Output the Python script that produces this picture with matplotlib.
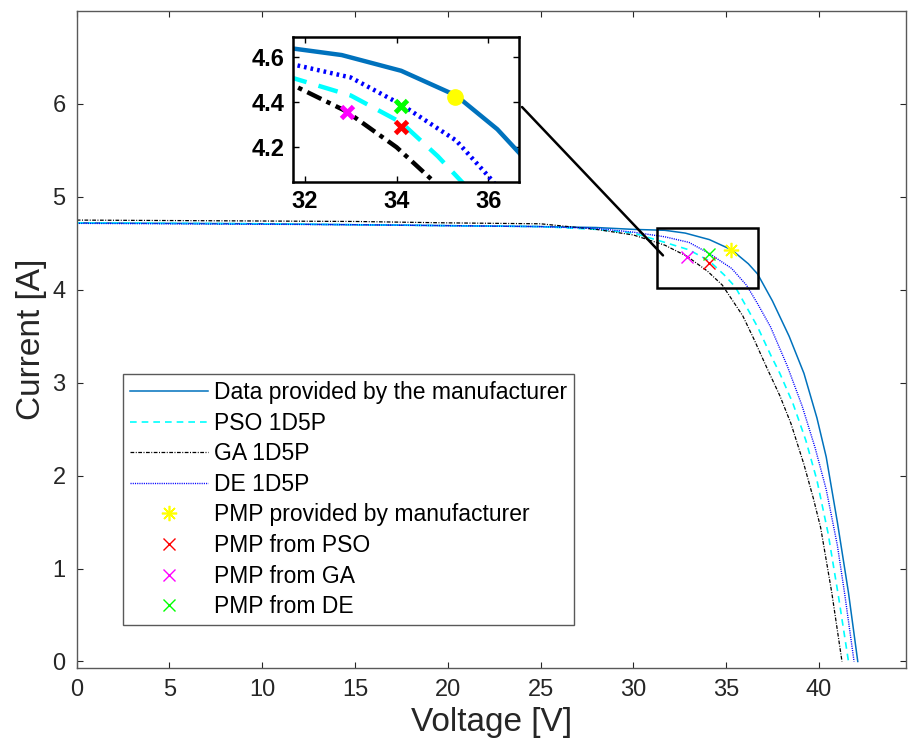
import matplotlib
matplotlib.use('Agg')
import matplotlib.pyplot as plt
from matplotlib.patches import Rectangle

plt.rcParams['font.family'] = ['Liberation Sans', 'DejaVu Sans']

# I-V curves
V_mfr = [0, 5, 10, 15, 20, 25, 28, 30, 31.7, 32.8, 34.1, 35.3, 36.2, 36.7, 37.5, 38.4, 39.2, 39.9, 40.4, 41.0, 41.6, 42.1]
I_mfr = [4.72, 4.715, 4.71, 4.70, 4.69, 4.68, 4.67, 4.65, 4.64, 4.61, 4.54, 4.43, 4.28, 4.17, 3.88, 3.50, 3.10, 2.62, 2.20, 1.50, 0.74, 0.0]

V_pso = [0, 5, 10, 15, 20, 25, 28, 30, 31.7, 33.0, 34.1, 34.9, 35.5, 36.2, 36.7, 37.4, 37.9, 38.6, 39.3, 39.9, 40.5, 41.06, 41.6]
I_pso = [4.72, 4.715, 4.71, 4.70, 4.69, 4.68, 4.65, 4.61, 4.51, 4.43, 4.31, 4.16, 4.03, 3.78, 3.60, 3.30, 3.10, 2.78, 2.38, 1.95, 1.38, 0.70, 0.0]

V_ga = [0, 5, 10, 15, 20, 25, 28, 30, 31.7, 32.9, 34.0, 34.8, 35.9, 36.5, 37.2, 37.9, 38.5, 39.2, 39.7, 40.1, 40.7, 41.25]
I_ga = [4.75, 4.745, 4.74, 4.735, 4.72, 4.71, 4.65, 4.59, 4.48, 4.36, 4.20, 4.05, 3.72, 3.47, 3.16, 2.86, 2.56, 2.12, 1.76, 1.44, 0.74, 0.0]

V_de = [0, 5, 10, 15, 20, 25, 28, 30, 31.7, 33.0, 34.1, 35.3, 36.1, 36.7, 37.4, 38.3, 39.1, 39.8, 40.4, 41.0, 41.4, 41.9]
I_de = [4.715, 4.71, 4.705, 4.70, 4.69, 4.68, 4.66, 4.62, 4.57, 4.51, 4.39, 4.23, 4.05, 3.85, 3.60, 3.18, 2.75, 2.30, 1.85, 1.25, 0.72, 0.0]

# maximum power points: manufacturer, PSO, GA, DE
V_pmp = [35.28, 34.10, 32.91, 34.10]
I_pmp = [4.425, 4.292, 4.358, 4.384]

labels = ['Data provided by the manufacturer', 'PSO 1D5P', 'GA 1D5P', 'DE 1D5P',
          'PMP provided by manufacturer', 'PMP from PSO', 'PMP from GA', 'PMP from DE']

c_mfr = (0, 0.447, 0.741)
c_cyan = (0, 1, 1)
c_green = (0, 1, 0)
grey = '0.15'
asterisk = (8, 2, 0)

fig = plt.figure(figsize=(9.09, 7.53), dpi=100)
ax = fig.add_axes([0.0844, 0.1129, 0.9123, 0.8725])

ax.plot(V_mfr, I_mfr, '-', color=c_mfr, lw=1.1, label=labels[0])
ax.plot(V_pso, I_pso, '--', color=c_cyan, lw=1.2, dashes=(4, 3), label=labels[1])
ax.plot(V_ga, I_ga, '-.', color='k', lw=0.9, dashes=(3, 1.2, 0.8, 1.2), label=labels[2])
ax.plot(V_de, I_de, ':', color='b', lw=1.0, dashes=(0.8, 0.8), label=labels[3])
ax.plot(V_pmp[0], I_pmp[0], marker=asterisk, color='yellow', ms=11, mew=1.2, ls='none', label=labels[4])
ax.plot(V_pmp[1], I_pmp[1], 'x', color='red', ms=9, mew=1.0, ls='none', label=labels[5])
ax.plot(V_pmp[2], I_pmp[2], 'x', color='magenta', ms=9, mew=1.0, ls='none', label=labels[6])
ax.plot(V_pmp[3], I_pmp[3], 'x', color=c_green, ms=9, mew=1.0, ls='none', label=labels[7])

ax.set_xlim(0, 44.7)
ax.set_ylim(-0.07, 7)
ax.set_xticks(range(0, 45, 5))
ax.set_yticks(range(0, 7))
ax.tick_params(direction='in', top=True, right=True, length=4, width=0.8,
               labelsize=17, colors=grey, pad=8)
for s in ax.spines.values():
    s.set_color('0.35')
    s.set_linewidth(1.0)
ax.set_xlabel('Voltage [V]', fontsize=24, color=grey)
ax.set_ylabel('Current [A]', fontsize=24, color=grey)

leg = ax.legend(loc='lower left', bbox_to_anchor=(0.0555, 0.0654), fontsize=16.5,
                handlelength=3.4, handletextpad=0.3, labelspacing=0.33,
                borderpad=0.3, borderaxespad=0, fancybox=False, framealpha=1)
leg.get_frame().set_edgecolor('0.35')
leg.get_frame().set_linewidth(1.0)
for t in leg.get_texts():
    t.set_color('k')

# zoom rectangle
ax.add_patch(Rectangle((31.3, 4.02), 5.44, 0.65, fill=False, ec='k', lw=1.8, zorder=5))

# inset
axins = fig.add_axes([0.322, 0.7587, 0.2493, 0.1918])
axins.plot(V_mfr, I_mfr, '-', color=c_mfr, lw=3.2)
axins.plot(V_pso, I_pso, '--', color=c_cyan, lw=3.2, dashes=(4.5, 2.8))
axins.plot(V_ga, I_ga, '-.', color='k', lw=3.2, dashes=(3.5, 1.3, 1, 1.3))
axins.plot(V_de, I_de, ':', color='b', lw=3.2, dashes=(0.6, 0.9))
axins.plot(V_pmp[0], I_pmp[0], 'o', color='yellow', ms=11, ls='none')
axins.plot(V_pmp[1], I_pmp[1], 'x', color='red', ms=9, mew=3.5, ls='none')
axins.plot(V_pmp[2], I_pmp[2], 'x', color='magenta', ms=9, mew=3.5, ls='none')
axins.plot(V_pmp[3], I_pmp[3], 'x', color=c_green, ms=9, mew=3.5, ls='none')
axins.set_xlim(31.73, 36.68)
axins.set_ylim(4.047, 4.689)
axins.set_xticks([32, 34, 36])
axins.set_yticks([4.2, 4.4, 4.6])
axins.tick_params(direction='in', top=True, right=True, length=4, width=1,
                  labelsize=17, pad=6)
for t in axins.get_xticklabels() + axins.get_yticklabels():
    t.set_fontweight('bold')
for s in axins.spines.values():
    s.set_color('k')
    s.set_linewidth(1.8)

ax.annotate('', xy=(31.6, 4.37), xycoords='data',
            xytext=(1.012, 0.517), textcoords=axins.transAxes,
            arrowprops=dict(arrowstyle='-', color='k', lw=1.8, shrinkA=0, shrinkB=0))

fig.savefig('out.png', dpi=100)
